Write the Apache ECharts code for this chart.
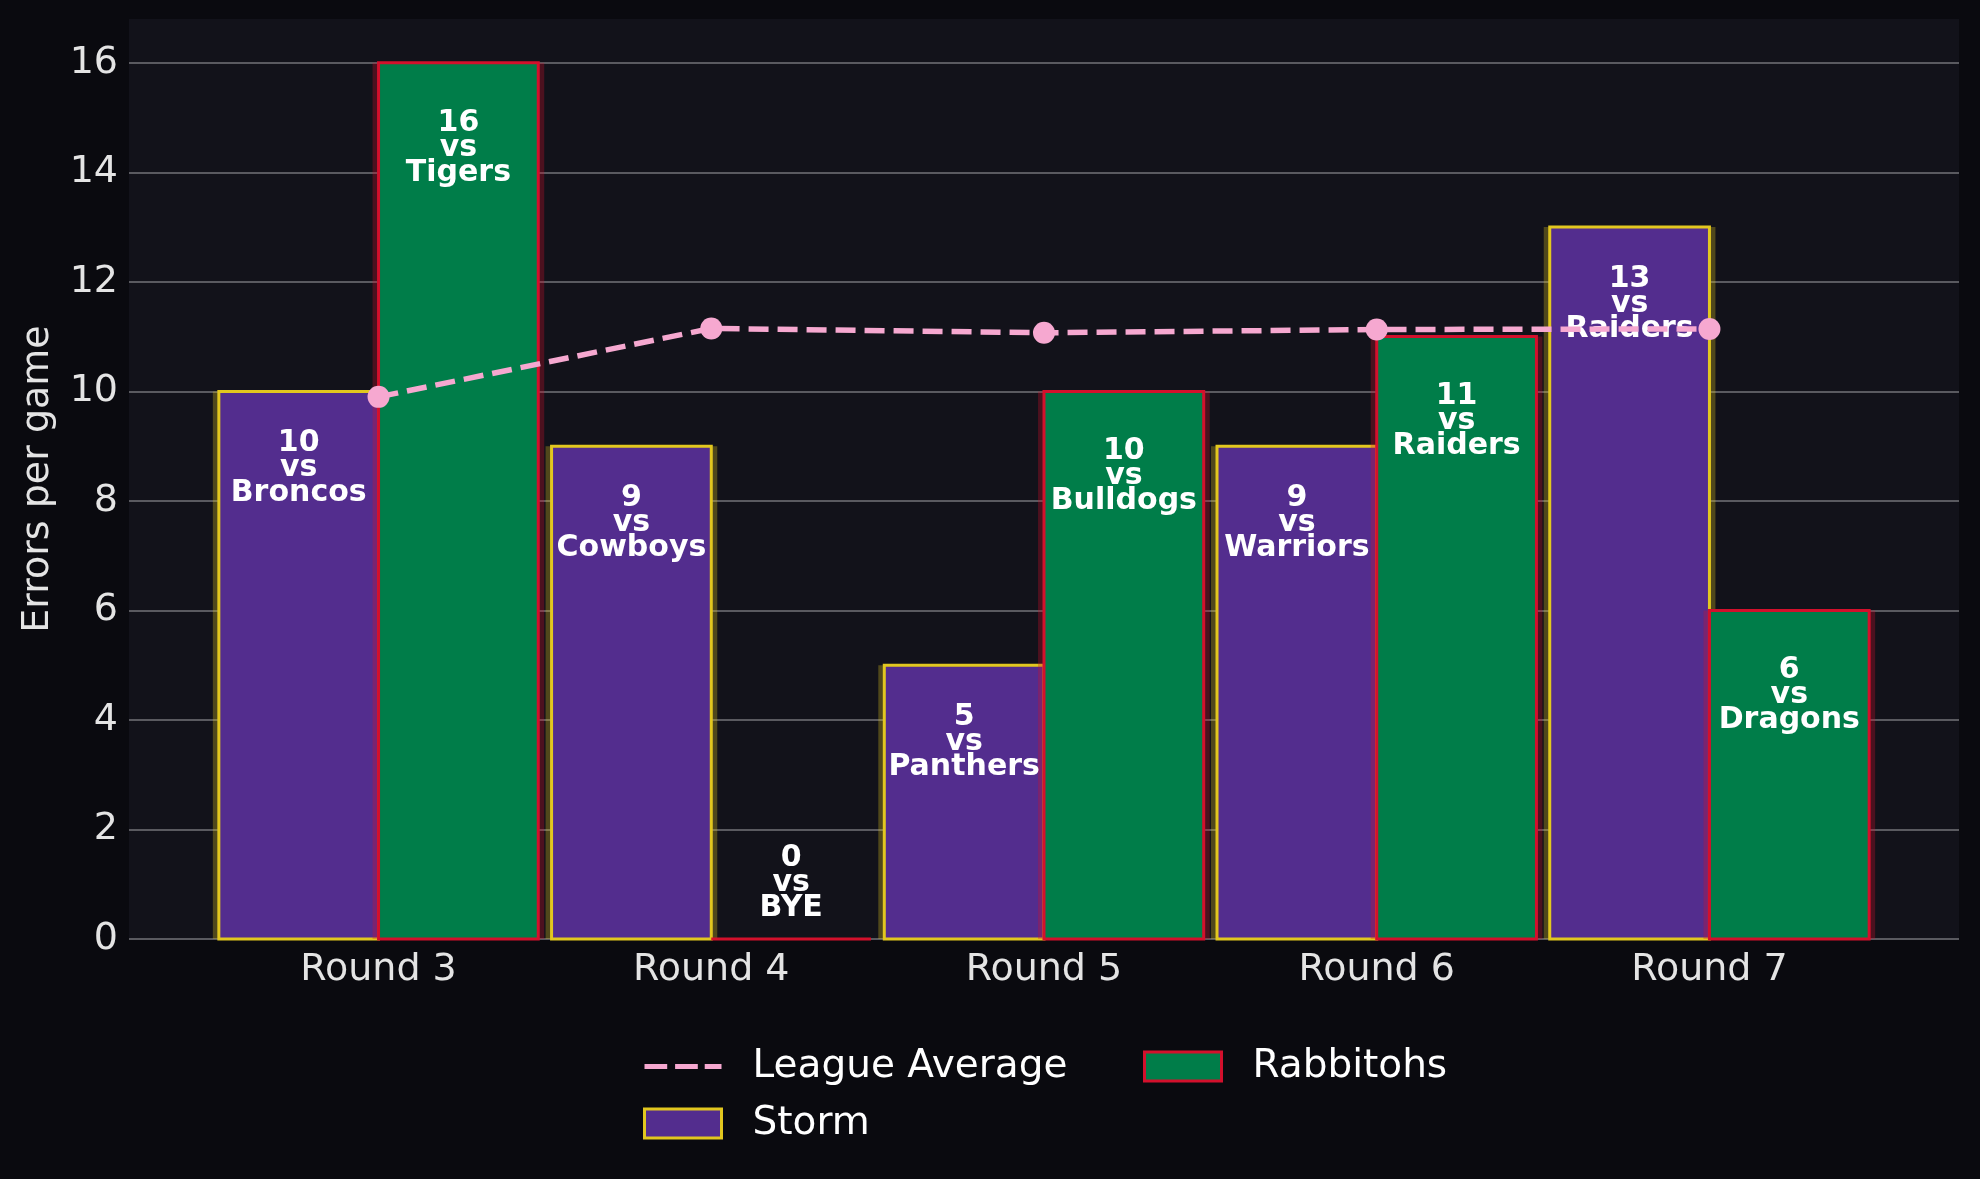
<!DOCTYPE html>
<html>
<head>
<meta charset="utf-8">
<title>Errors per game</title>
<script src="https://cdn.jsdelivr.net/npm/echarts@6/dist/echarts.min.js"></script>
<style>
html,body{margin:0;padding:0;background:#0a0a0f;}
#chart{width:1980px;height:1179px;}
</style>
</head>
<body>
<div id="chart"></div>
<script>
// data
const rounds = ['Round 3', 'Round 4', 'Round 5', 'Round 6', 'Round 7'];
const stormErrors = [10, 9, 5, 9, 13];
const stormOpponents = ['Broncos', 'Cowboys', 'Panthers', 'Warriors', 'Raiders'];
const rabbitohsErrors = [16, 0, 10, 11, 6];
const rabbitohsOpponents = ['Tigers', 'BYE', 'Bulldogs', 'Raiders', 'Dragons'];
const leagueAverage = [9.9, 11.15, 11.07, 11.13, 11.14];

const PINK = '#f6a8d0';
const PURPLE = '#532d8e';
const YELLOW = '#e2c71f';
const GREEN = '#007d49';
const RED = '#d3102c';
const BAR_W = 0.48;     // in x units
const GLOW_W = 0.516;

// bars are drawn from the axis scales, label sits inside near the top
function barRenderer(offset, opponents, fill, edge, glow, labelGap) {
    return function (params, api) {
        const x = api.value(0) + offset;
        const v = api.value(1);
        const a = api.coord([x - BAR_W / 2, v]);
        const b = api.coord([x + BAR_W / 2, 0]);
        const ga = api.coord([x - GLOW_W / 2, v]);
        const gb = api.coord([x + GLOW_W / 2, 0]);
        const cx = api.coord([x, 0])[0];
        const ty = v > 0 ? a[1] + labelGap : b[1] - 56;
        return {
            type: 'group',
            children: [
                {type: 'rect', shape: {x: ga[0], y: ga[1], width: gb[0] - ga[0], height: gb[1] - ga[1]},
                    style: {fill: glow}},
                {type: 'rect', shape: {x: a[0], y: a[1], width: b[0] - a[0], height: b[1] - a[1]},
                    style: {fill: fill, stroke: edge, lineWidth: 3}},
                {type: 'text', x: cx, y: ty, z2: 10,
                    style: {
                        text: v + '\nvs\n' + opponents[params.dataIndex],
                        fill: '#ffffff', fontSize: 30, fontWeight: 'bold', fontFamily: 'DejaVu Sans',
                        lineHeight: 25, align: 'center', verticalAlign: 'middle'
                    }}
            ]
        };
    };
}

const chart = echarts.init(document.getElementById('chart'));
const option = {
    backgroundColor: '#0a0a0f',
    animation: false,
    grid: {left: 129, right: 21, top: 19, bottom: 240, show: true, backgroundColor: '#12121a', borderWidth: 0},
    xAxis: {
        type: 'value', min: -0.75, max: 4.75,
        axisLine: {show: false}, axisTick: {show: false}, splitLine: {show: false},
        axisLabel: {
            customValues: [0, 1, 2, 3, 4],
            formatter: v => rounds[Math.round(v)],
            color: '#e4e4e4', fontSize: 38, fontFamily: 'DejaVu Sans', margin: 12
        }
    },
    yAxis: {
        type: 'value', min: 0, max: 16.8, interval: 2,
        name: 'Errors per game', nameLocation: 'middle', nameGap: 72,
        nameTextStyle: {color: '#e4e4e4', fontSize: 38, fontFamily: 'DejaVu Sans'},
        axisLine: {show: false}, axisTick: {show: false},
        axisLabel: {
            formatter: v => (v % 2 === 0 ? v : ''), showMaxLabel: false,
            color: '#e4e4e4', fontSize: 38, fontFamily: 'DejaVu Sans', margin: 11
        },
        splitLine: {show: true, showMaxLine: false, lineStyle: {color: '#5a5a60', width: 2}}
    },
    legend: [
        {
            orient: 'vertical', left: 638, top: 1042,
            itemWidth: 77, itemHeight: 29, itemGap: 18,
            textStyle: {color: '#ffffff', fontSize: 39, fontFamily: 'DejaVu Sans', lineHeight: 38, padding: [0, 0, 0, 26]},
            data: [
                {name: 'League Average', icon: 'path://M0,0h23v5h-23z M31,0h23v5h-23z M61,0h17v5h-17z',
                    itemStyle: {color: PINK, borderWidth: 0}},
                {name: 'Storm', icon: 'rect', itemStyle: {color: PURPLE, borderColor: YELLOW, borderWidth: 3}}
            ]
        },
        {
            orient: 'vertical', left: 1138, top: 1042,
            itemWidth: 77, itemHeight: 29, itemGap: 18,
            textStyle: {color: '#ffffff', fontSize: 39, fontFamily: 'DejaVu Sans', lineHeight: 38, padding: [0, 0, 0, 26]},
            data: [
                {name: 'Rabbitohs', icon: 'rect', itemStyle: {color: GREEN, borderColor: RED, borderWidth: 3}}
            ]
        }
    ],
    series: [
        {
            name: 'Storm', type: 'custom', z: 2, clip: false,
            itemStyle: {color: PURPLE},
            renderItem: barRenderer(-BAR_W / 2, stormOpponents, PURPLE, YELLOW, 'rgba(226,199,31,0.3)', 77),
            encode: {x: 0, y: 1},
            data: stormErrors.map((v, i) => [i, v])
        },
        {
            name: 'Rabbitohs', type: 'custom', z: 2, clip: false,
            itemStyle: {color: GREEN},
            renderItem: barRenderer(BAR_W / 2, rabbitohsOpponents, GREEN, RED, 'rgba(211,16,44,0.3)', 85),
            encode: {x: 0, y: 1},
            data: rabbitohsErrors.map((v, i) => [i, v])
        },
        {
            name: 'League Average', type: 'line', z: 5,
            symbol: 'circle', symbolSize: 22,
            lineStyle: {color: PINK, width: 5.5, type: [20, 9]},
            itemStyle: {color: PINK},
            data: leagueAverage.map((v, i) => [i, v])
        }
    ]
};
chart.setOption(option);
</script>
</body>
</html>
